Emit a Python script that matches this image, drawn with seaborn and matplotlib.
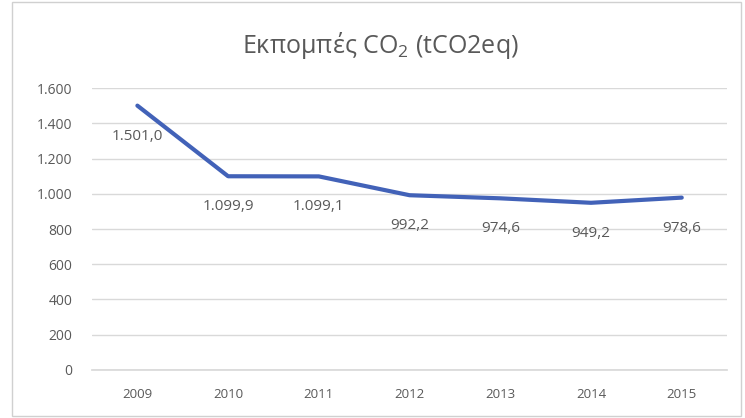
import matplotlib
matplotlib.use("Agg")
import matplotlib.pyplot as plt
import matplotlib.ticker as mticker
import seaborn as sns
import pandas as pd

# Data
years = ["2009", "2010", "2011", "2012", "2013", "2014", "2015"]
emissions = [1501.0, 1099.9, 1099.1, 992.2, 974.6, 949.2, 978.6]
title = "Εκπομπές CO$_2$ (tCO2eq)"


def gr_format(v, decimals=0):
    """Greek number format: dot for thousands, comma for decimals"""
    s = f"{v:,.{decimals}f}"
    return s.replace(",", "X").replace(".", ",").replace("X", ".")


df = pd.DataFrame({"year": years, "co2": emissions})

sns.set_theme(style="white")
plt.rcParams['font.family'] = ['Open Sans', 'DejaVu Sans']
plt.rcParams['mathtext.fontset'] = 'custom'
plt.rcParams['mathtext.rm'] = 'Open Sans'
plt.rcParams['mathtext.it'] = 'Open Sans'

text_color = "#595959"
line_color = "#4262B8"

fig = plt.figure(figsize=(7.45, 4.18), dpi=100)
ax = fig.add_axes([0.1235, 0.115, 0.8525, 0.674])

sns.lineplot(data=df, x="year", y="co2", ax=ax, color=line_color,
             linewidth=3.0, sort=False)

ax.set_ylim(0, 1600)
ax.set_xlim(-0.5, len(years) - 0.5)
ax.yaxis.set_major_locator(mticker.MultipleLocator(200))
ax.yaxis.set_major_formatter(mticker.FuncFormatter(lambda v, p: gr_format(v)))
ax.grid(axis="y", color="#d9d9d9", linewidth=1.0)
ax.set_axisbelow(True)

for side in ["top", "right", "left"]:
    ax.spines[side].set_visible(False)
ax.spines["bottom"].set_color("#d9d9d9")

ax.tick_params(axis="x", length=0, labelsize=9.5, colors=text_color, pad=13)
ax.tick_params(axis="y", length=0, labelsize=10, colors=text_color, pad=14)
ax.set_xlabel("")
ax.set_ylabel("")

# Data labels below points
for i, v in enumerate(emissions):
    ax.annotate(gr_format(v, 1), (i, v), xytext=(0, -22),
                textcoords="offset points", ha="center", va="center",
                fontsize=11, color=text_color)

fig.text(0.51, 0.89, title, ha="center", va="center", fontsize=18,
         color=text_color)

# Chart border
fig.patches.append(plt.Rectangle((0.016, 0.005), 0.978, 0.99,
                                 transform=fig.transFigure, fill=False,
                                 edgecolor="#d0d0d0", linewidth=1.0))

fig.savefig("out.png", dpi=100)
